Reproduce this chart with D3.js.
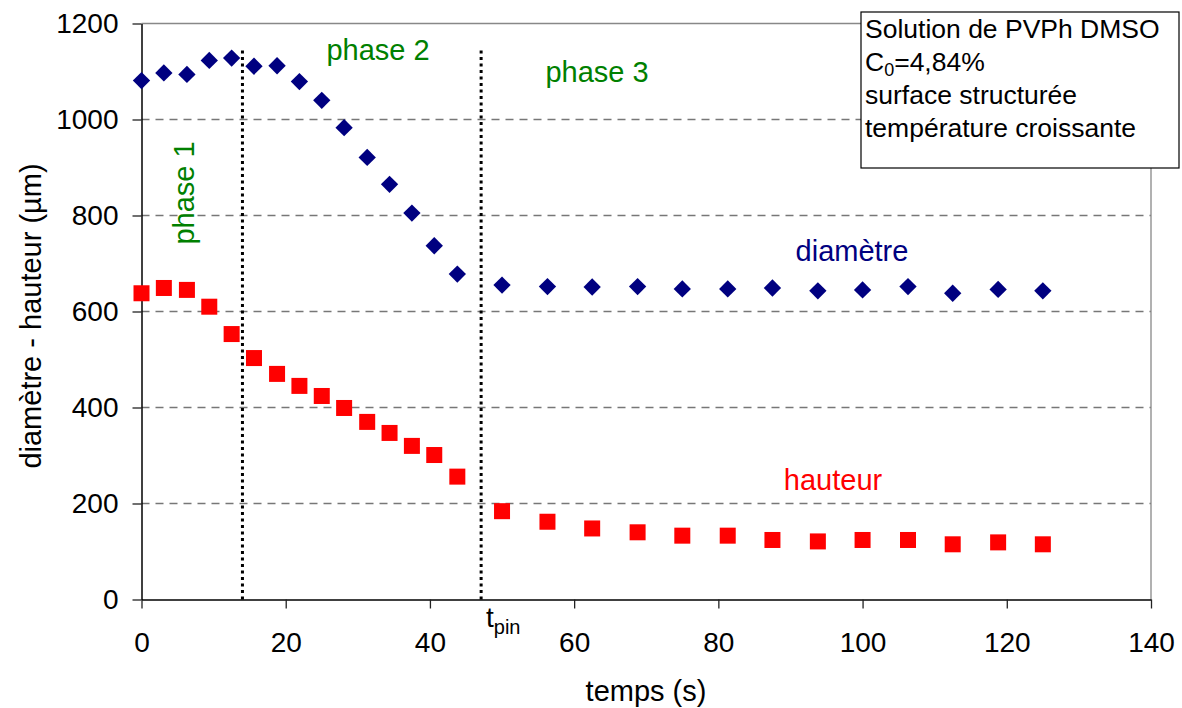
<!DOCTYPE html>
<html>

<head>
    <meta charset="utf-8">
    <script src="https://d3js.org/d3.v7.min.js"></script>
    <title>diametre - hauteur</title>
    <style>
        body { margin: 0; background: #fff; }
        text { font-family: "Liberation Sans", Arial, sans-serif; }
    </style>
</head>

<body>
    <svg></svg>
    <script>
        // temps (s)
        const temps = [0, 3.1, 6.3, 9.4, 12.5, 15.6, 18.8, 21.9, 25, 28.1, 31.3, 34.4, 37.5, 40.6, 43.8,
            50, 56.3, 62.5, 68.8, 75, 81.3, 87.5, 93.8, 100, 106.3, 112.5, 118.8, 125];
        const diametre = [1081, 1097, 1094, 1123, 1128, 1111, 1112, 1079, 1040, 983, 921, 865, 805, 737, 678,
            655, 652, 651, 652, 647, 647, 649, 643, 645, 652, 638, 646, 643];
        const hauteur = [638, 649, 645, 610, 553, 503, 470, 445, 424, 399, 370, 347, 320, 301, 256,
            184, 162, 148, 140, 133, 133, 124, 121, 124, 124, 115, 119, 115];
        const xTicks = [0, 20, 40, 60, 80, 100, 120, 140];
        const yTicks = [0, 200, 400, 600, 800, 1000, 1200];
        const phaseLines = [14, 47.1];
        const phaseTop = 1145;
        const boxLines = ["Solution de PVPh DMSO", "C0=4,84%", "surface structurée", "température croissante"];

        const width = 1182;
        const height = 708;
        const margin = { left: 141.5, right: 31, top: 23.5, bottom: 108.5 };

        const svg = d3.select("svg")
            .attr("width", width)
            .attr("height", height);

        const x = d3.scaleLinear().domain([0, 140]).range([margin.left, width - margin.right]);
        const y = d3.scaleLinear().domain([0, 1200]).range([height - margin.bottom, margin.top]);

        // grid
        svg.append("g")
            .selectAll("line")
            .data(yTicks.filter(d => d > 0 && d < 1200))
            .enter()
            .append("line")
            .attr("x1", x(0))
            .attr("x2", x(140))
            .attr("y1", d => y(d))
            .attr("y2", d => y(d))
            .style("stroke", "#777")
            .style("stroke-width", 1.3)
            .style("stroke-dasharray", "8,6");

        // top / right border
        svg.append("path")
            .attr("d", `M${x(0)},${y(1200)}H${x(140)}V${y(0)}`)
            .style("fill", "none")
            .style("stroke", "#888")
            .style("stroke-width", 1.3);

        // axes
        const xAxis = svg.append("g")
            .attr("transform", `translate(0,${y(0)})`)
            .call(d3.axisBottom(x).tickValues(xTicks).tickFormat(d3.format("d"))
                .tickSize(9).tickPadding(24).tickSizeOuter(0));
        const yAxis = svg.append("g")
            .attr("transform", `translate(${x(0)},0)`)
            .call(d3.axisLeft(y).tickValues(yTicks).tickFormat(d3.format("d"))
                .tickSize(9).tickPadding(14).tickSizeOuter(0));
        [xAxis, yAxis].forEach(a => {
            a.select(".domain").style("stroke", "#000").style("stroke-width", 1.5);
            a.selectAll(".tick line").style("stroke", "#222").style("stroke-width", 1.3);
            a.selectAll(".tick text")
                .style("font-family", "Liberation Sans, Arial, sans-serif")
                .style("font-size", "28px")
                .style("fill", "#000");
        });

        // phase separators
        svg.append("g")
            .selectAll("line")
            .data(phaseLines)
            .enter()
            .append("line")
            .attr("x1", d => x(d))
            .attr("x2", d => x(d))
            .attr("y1", y(0))
            .attr("y2", y(phaseTop))
            .style("stroke", "#000")
            .style("stroke-width", 3)
            .style("stroke-dasharray", "3,3.5");

        // diametre markers
        svg.append("g")
            .selectAll("path")
            .data(temps)
            .enter()
            .append("path")
            .attr("d", d3.symbol().type(d3.symbolSquare).size(150))
            .attr("transform", (d, i) => `translate(${x(d)},${y(diametre[i])}) rotate(45)`)
            .style("fill", "#000080");

        // hauteur markers
        svg.append("g")
            .selectAll("rect")
            .data(temps)
            .enter()
            .append("rect")
            .attr("x", d => x(d) - 8)
            .attr("y", (d, i) => y(hauteur[i]) - 8)
            .attr("width", 16)
            .attr("height", 16)
            .style("fill", "#ff0000");

        // labels
        const label = (tx, ty, str, color, size) => svg.append("text")
            .attr("x", tx)
            .attr("y", ty)
            .attr("text-anchor", "middle")
            .style("font-size", size + "px")
            .style("fill", color)
            .text(str);

        label(378, 60, "phase 2", "#008000", 29);
        label(597, 82, "phase 3", "#008000", 29);
        label(852, 261, "diamètre", "#000080", 29);
        label(833, 490, "hauteur", "#ff0000", 29);
        label(0, 0, "phase 1", "#008000", 29)
            .attr("transform", "translate(194,193) rotate(-90)");

        label(646, 701, "temps (s)", "#000", 29);
        label(0, 0, "diamètre - hauteur (µm)", "#000", 29)
            .attr("transform", "translate(41,316) rotate(-90)");

        const tpin = svg.append("text")
            .attr("x", 486)
            .attr("y", 627)
            .style("font-size", "28px")
            .style("fill", "#000");
        tpin.append("tspan").text("t");
        tpin.append("tspan").attr("dy", 7).style("font-size", "20px").text("pin");

        // info box
        svg.append("rect")
            .attr("x", 861)
            .attr("y", 12)
            .attr("width", 318)
            .attr("height", 156)
            .style("fill", "#fff")
            .style("stroke", "#000")
            .style("stroke-width", 1.2);

        boxLines.forEach((s, i) => {
            const t = svg.append("text")
                .attr("x", 865)
                .attr("y", 38 + i * 33)
                .style("font-size", "26.5px")
                .style("fill", "#000");
            if (s.startsWith("C0")) {
                t.append("tspan").text("C");
                t.append("tspan").attr("dy", 5).style("font-size", "18px").text("0");
                t.append("tspan").attr("dy", -5).text(s.slice(2));
            } else {
                t.text(s);
            }
        });
    </script>
</body>

</html>
